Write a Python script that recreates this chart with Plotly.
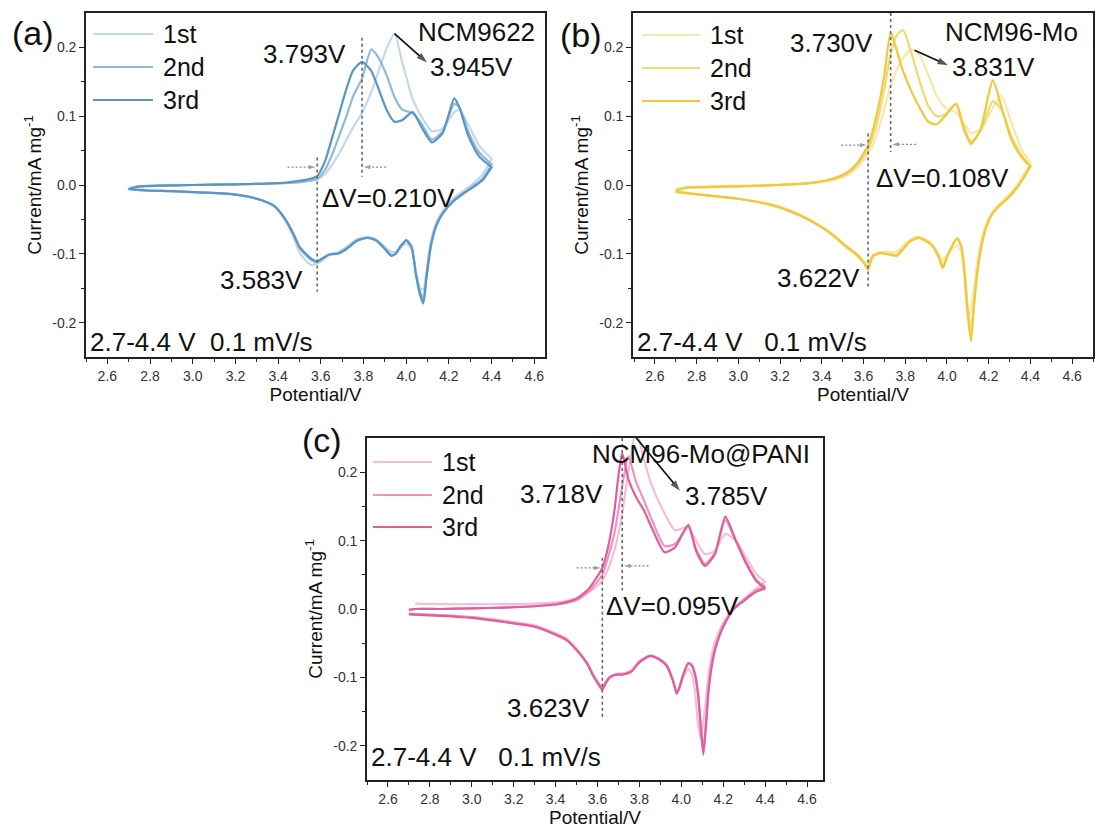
import plotly.graph_objects as go

W, H = 1096, 830
FONT = "Liberation Sans, Arial, Helvetica, sans-serif"
INK = "#111111"

# ---------------------------------------------------------------- (a) NCM9622
A_V_UP = [2.70, 2.75, 2.85, 3.00, 3.20, 3.35, 3.45, 3.52, 3.583, 3.62, 3.654, 3.69, 3.72, 3.75,
          3.793, 3.836, 3.87, 3.91, 3.945, 3.98, 4.03, 4.07, 4.12, 4.17, 4.225, 4.25, 4.29, 4.34, 4.40]
A_I_UP_1 = [-0.004, -0.002, 0.000, 0.000, 0.001, 0.002, 0.003, 0.005, 0.008, 0.016, 0.030, 0.048, 0.066, 0.083,
            0.105, 0.135, 0.165, 0.200, 0.220, 0.180, 0.125, 0.100, 0.078, 0.082, 0.106, 0.109, 0.088, 0.058, 0.038]
A_I_UP_2 = [-0.006, -0.002, -0.001, 0.000, 0.001, 0.002, 0.003, 0.005, 0.009, 0.022, 0.045, 0.075, 0.100, 0.128,
            0.155, 0.197, 0.185, 0.158, 0.128, 0.110, 0.104, 0.090, 0.066, 0.078, 0.118, 0.112, 0.078, 0.048, 0.030]
A_I_UP_3 = [-0.006, -0.002, -0.001, 0.000, 0.001, 0.002, 0.004, 0.007, 0.013, 0.035, 0.070, 0.108, 0.140, 0.166,
            0.179, 0.166, 0.140, 0.108, 0.092, 0.094, 0.106, 0.085, 0.062, 0.075, 0.126, 0.112, 0.072, 0.042, 0.026]
A_V_DN = [4.40, 4.36, 4.32, 4.27, 4.22, 4.17, 4.14, 4.115, 4.095, 4.08, 4.065, 4.045, 4.025, 4.00, 3.975, 3.95,
          3.93, 3.90, 3.86, 3.82, 3.77, 3.72, 3.68, 3.64, 3.61, 3.583, 3.555, 3.53, 3.50, 3.47, 3.43, 3.38,
          3.30, 3.20, 3.05, 2.90, 2.78, 2.70]
A_I_DN_1 = [0.038, 0.016, 0.004, -0.008, -0.020, -0.038, -0.055, -0.082, -0.125, -0.152, -0.150, -0.125, -0.093,
            -0.085, -0.090, -0.097, -0.097, -0.090, -0.080, -0.076, -0.079, -0.090, -0.098, -0.101, -0.109, -0.114,
            -0.116, -0.110, -0.098, -0.075, -0.050, -0.031, -0.020, -0.014, -0.011, -0.009, -0.007, -0.005]
A_I_DN_2 = [0.030, 0.010, 0.000, -0.011, -0.023, -0.041, -0.058, -0.087, -0.130, -0.165, -0.155, -0.127, -0.090,
            -0.081, -0.090, -0.100, -0.102, -0.092, -0.080, -0.076, -0.080, -0.092, -0.099, -0.101, -0.107, -0.112,
            -0.109, -0.102, -0.091, -0.070, -0.048, -0.030, -0.020, -0.014, -0.011, -0.009, -0.008, -0.006]
A_I_DN_3 = [0.026, 0.008, -0.002, -0.012, -0.024, -0.042, -0.060, -0.090, -0.135, -0.172, -0.160, -0.130, -0.090,
            -0.080, -0.088, -0.100, -0.103, -0.093, -0.081, -0.077, -0.081, -0.093, -0.100, -0.101, -0.106, -0.111,
            -0.107, -0.100, -0.090, -0.070, -0.048, -0.030, -0.020, -0.014, -0.011, -0.009, -0.008, -0.006]

# ---------------------------------------------------------------- (b) NCM96-Mo
B_V_UP = [2.70, 2.75, 2.85, 3.00, 3.20, 3.35, 3.45, 3.52, 3.57, 3.622, 3.66, 3.70, 3.73, 3.76, 3.79,
          3.831, 3.87, 3.91, 3.95, 3.99, 4.044, 4.08, 4.115, 4.16, 4.22, 4.26, 4.31, 4.36, 4.40]
B_I_UP_1 = [-0.006, -0.003, -0.002, -0.001, 0.001, 0.003, 0.007, 0.014, 0.025, 0.045, 0.070, 0.110, 0.145, 0.168,
            0.185, 0.197, 0.188, 0.160, 0.130, 0.113, 0.105, 0.090, 0.076, 0.080, 0.112, 0.130, 0.090, 0.050, 0.032]
B_I_UP_2 = [-0.008, -0.004, -0.003, -0.002, 0.000, 0.003, 0.008, 0.016, 0.029, 0.052, 0.085, 0.140, 0.190, 0.218,
            0.225, 0.190, 0.150, 0.115, 0.100, 0.102, 0.118, 0.085, 0.063, 0.078, 0.122, 0.110, 0.070, 0.042, 0.028]
B_I_UP_3 = [-0.008, -0.004, -0.003, -0.002, 0.000, 0.003, 0.009, 0.018, 0.032, 0.058, 0.098, 0.160, 0.222, 0.195,
            0.165, 0.135, 0.112, 0.092, 0.088, 0.100, 0.118, 0.082, 0.060, 0.080, 0.152, 0.115, 0.065, 0.040, 0.027]
B_V_DN = [4.40, 4.35, 4.30, 4.26, 4.22, 4.19, 4.165, 4.145, 4.13, 4.115, 4.10, 4.085, 4.07, 4.05, 4.03, 4.00,
          3.98, 3.96, 3.93, 3.89, 3.86, 3.82, 3.76, 3.72, 3.68, 3.645, 3.622, 3.60, 3.57, 3.55, 3.50, 3.45,
          3.38, 3.30, 3.18, 3.00, 2.85, 2.70]
B_I_DN_1 = [0.032, 0.006, -0.013, -0.025, -0.038, -0.055, -0.080, -0.112, -0.150, -0.180, -0.190, -0.140, -0.100,
            -0.088, -0.092, -0.102, -0.110, -0.100, -0.086, -0.078, -0.075, -0.080, -0.097, -0.097, -0.097, -0.102,
            -0.113, -0.112, -0.104, -0.099, -0.087, -0.073, -0.058, -0.045, -0.031, -0.020, -0.015, -0.010]
B_I_DN_2 = [0.028, 0.003, -0.016, -0.027, -0.040, -0.058, -0.087, -0.125, -0.168, -0.212, -0.180, -0.125, -0.090,
            -0.078, -0.086, -0.104, -0.118, -0.103, -0.088, -0.079, -0.076, -0.082, -0.101, -0.100, -0.099, -0.104,
            -0.119, -0.111, -0.101, -0.096, -0.084, -0.071, -0.057, -0.044, -0.030, -0.020, -0.015, -0.010]
B_I_DN_3 = [0.027, 0.002, -0.017, -0.028, -0.041, -0.060, -0.090, -0.130, -0.175, -0.227, -0.190, -0.130, -0.092,
            -0.077, -0.085, -0.105, -0.121, -0.105, -0.089, -0.080, -0.077, -0.083, -0.103, -0.101, -0.099, -0.103,
            -0.123, -0.112, -0.102, -0.097, -0.085, -0.072, -0.058, -0.045, -0.031, -0.020, -0.015, -0.010]

# ---------------------------------------------------------------- (c) NCM96-Mo@PANI
C_V_UP = [2.70, 2.73, 2.85, 3.00, 3.15, 3.30, 3.42, 3.50, 3.56, 3.60, 3.623, 3.65, 3.68, 3.70, 3.718,
          3.747, 3.785, 3.82, 3.86, 3.92, 3.97, 4.033, 4.07, 4.113, 4.16, 4.21, 4.26, 4.31, 4.36, 4.40]
C_I_UP_1 = [None, 0.008, 0.007, 0.007, 0.007, 0.008, 0.010, 0.016, 0.025, 0.034, 0.042, 0.058, 0.085, 0.110, 0.140,
            0.200, 0.262, 0.220, 0.180, 0.140, 0.115, 0.120, 0.100, 0.080, 0.085, 0.110, 0.100, 0.075, 0.050, 0.040]
C_I_UP_2 = [-0.002, 0.000, 0.000, 0.001, 0.002, 0.004, 0.007, 0.013, 0.026, 0.040, 0.050, 0.075, 0.110, 0.145, 0.180,
            0.223, 0.185, 0.160, 0.130, 0.092, 0.095, 0.120, 0.088, 0.066, 0.082, 0.130, 0.100, 0.068, 0.042, 0.033]
C_I_UP_3 = [-0.001, 0.000, 0.000, 0.001, 0.002, 0.004, 0.008, 0.015, 0.030, 0.048, 0.060, 0.090, 0.142, 0.195, 0.228,
            0.190, 0.163, 0.145, 0.118, 0.083, 0.090, 0.123, 0.085, 0.063, 0.080, 0.135, 0.100, 0.066, 0.040, 0.030]
C_V_DN = [4.40, 4.35, 4.30, 4.25, 4.20, 4.17, 4.15, 4.13, 4.118, 4.105, 4.092, 4.08, 4.065, 4.05, 4.033, 4.01,
          3.99, 3.978, 3.96, 3.93, 3.89, 3.85, 3.80, 3.76, 3.72, 3.69, 3.66, 3.64, 3.623, 3.60, 3.58, 3.55,
          3.50, 3.45, 3.38, 3.30, 3.15, 3.00, 2.85, 2.70]
C_I_DN_1 = [0.040, 0.028, 0.015, 0.002, -0.020, -0.040, -0.060, -0.095, -0.130, -0.165, -0.188, -0.170, -0.120,
            -0.095, -0.088, -0.100, -0.117, -0.120, -0.104, -0.082, -0.072, -0.068, -0.076, -0.090, -0.094, -0.095,
            -0.099, -0.106, -0.113, -0.106, -0.096, -0.078, -0.058, -0.043, -0.033, -0.024, -0.017, -0.012,
            -0.009, -0.007]
C_I_DN_2 = [0.033, 0.026, 0.014, 0.001, -0.024, -0.048, -0.072, -0.115, -0.162, -0.205, -0.168, -0.125, -0.096,
            -0.083, -0.080, -0.096, -0.116, -0.122, -0.104, -0.082, -0.072, -0.068, -0.077, -0.091, -0.095, -0.095,
            -0.099, -0.107, -0.116, -0.107, -0.097, -0.079, -0.059, -0.044, -0.034, -0.025, -0.018, -0.012,
            -0.009, -0.007]
C_I_DN_3 = [0.030, 0.024, 0.012, 0.000, -0.026, -0.050, -0.075, -0.120, -0.170, -0.213, -0.170, -0.125, -0.095,
            -0.082, -0.079, -0.095, -0.115, -0.124, -0.105, -0.083, -0.073, -0.069, -0.078, -0.092, -0.096, -0.096,
            -0.100, -0.108, -0.118, -0.108, -0.098, -0.080, -0.060, -0.045, -0.035, -0.026, -0.019, -0.013,
            -0.010, -0.008]

CYCLES = ["1st", "2nd", "3rd"]
A_COLORS = ["#c3d9ea", "#8fbadb", "#5b95c6"]
B_COLORS = ["#f6e8a8", "#f2d873", "#efc83c"]
C_COLORS = ["#f3bed7", "#ec94be", "#df5f9e"]

# labelled peak potentials (V): main oxidation, main reduction, first-cycle oxidation
A_OX, A_RED, A_OX1 = 3.793, 3.583, 3.945
B_OX, B_RED, B_OX1 = 3.730, 3.622, 3.831
C_OX, C_RED, C_OX1 = 3.718, 3.623, 3.785

SAMPLES = ["NCM9622", "NCM96-Mo", "NCM96-Mo@PANI"]
CONDITION = ["2.7-4.4 V\u00a0\u00a00.1 mV/s", "2.7-4.4 V\u00a0\u00a0\u00a00.1 mV/s", "2.7-4.4 V\u00a0\u00a0\u00a00.1 mV/s"]
X_TITLE = "Potential/V"
Y_TITLE = "Current/mA mg<sup>-1</sup>"
Y_TICKS = [-0.2, -0.1, 0.0, 0.1, 0.2]
Y_TICKTEXT = ["-0.2", "-0.1", "0.0", "0.1", "0.2"]


def px(x):
    return x / W


def py(y):
    return 1 - y / H


panels = [
    dict(letter="(a)", v_up=A_V_UP, i_up=[A_I_UP_1, A_I_UP_2, A_I_UP_3],
         v_dn=A_V_DN, i_dn=[A_I_DN_1, A_I_DN_2, A_I_DN_3], colors=A_COLORS,
         ox=A_OX, red=A_RED, ox1=A_OX1, sample=SAMPLES[0], cond=CONDITION[0],
         box=(86, 545, 13, 357), xrange=[2.5, 4.65],
         letter_pos=(33, 33), leg_x=(93, 153, 161), leg_y=(34, 67, 100),
         ox_lab=(0.191, -14), ox1_lab=(4.100, 0.171), sample_lab=(0.982, 0.222),
         arrow=((3.945, 0.220), (4.097, 0.178)),
         dv_lab=(-0.019, 3), red_lab=(-0.138, -12), cond_y=-0.228,
         ox_line=(0.214, 0.012), red_line=(0.040, -0.155),
         harrow=((3.444, 0.026), (3.906, 0.026))),
    dict(letter="(b)", v_up=B_V_UP, i_up=[B_I_UP_1, B_I_UP_2, B_I_UP_3],
         v_dn=B_V_DN, i_dn=[B_I_DN_1, B_I_DN_2, B_I_DN_3], colors=B_COLORS,
         ox=B_OX, red=B_RED, ox1=B_OX1, sample=SAMPLES[1], cond=CONDITION[1],
         box=(633, 1093, 13, 357), xrange=[2.495, 4.7],
         letter_pos=(581, 35), leg_x=(642, 700, 708), leg_y=(35, 68, 101),
         ox_lab=(0.206, -16), ox1_lab=(4.013, 0.171), sample_lab=(0.972, 0.222),
         arrow=((3.845, 0.196), (4.005, 0.174)),
         dv_lab=(0.010, 6), red_lab=(-0.135, -6), cond_y=-0.228,
         ox_line=(0.25, 0.048), red_line=(0.075, -0.152),
         harrow=((3.493, 0.058), (3.852, 0.059))),
    dict(letter="(c)", v_up=C_V_UP, i_up=[C_I_UP_1, C_I_UP_2, C_I_UP_3],
         v_dn=C_V_DN, i_dn=[C_I_DN_1, C_I_DN_2, C_I_DN_3], colors=C_COLORS,
         ox=C_OX, red=C_RED, ox1=C_OX1, sample=SAMPLES[2], cond=CONDITION[2],
         box=(367, 823, 438, 780), xrange=[2.5, 4.676],
         letter_pos=(322, 440), leg_x=(373, 432, 440), leg_y=(462, 495, 527),
         ox_lab=(0.168, -17), ox1_lab=(4.006, 0.165), sample_lab=(0.975, 0.226),
         arrow=((3.785, 0.250), (3.993, 0.173)),
         dv_lab=(0.005, 2), red_lab=(-0.144, -10), cond_y=-0.217,
         ox_line=(0.25, 0.027), red_line=(0.075, -0.158),
         harrow=((3.500, 0.060), (3.843, 0.063))),
]

fig = go.Figure()
shapes, annotations = [], []
layout_axes = {}

for n, p in enumerate(panels, start=1):
    xa = "x" if n == 1 else f"x{n}"
    ya = "y" if n == 1 else f"y{n}"
    x0, x1, y0, y1 = p["box"]

    # CV loops: anodic sweep followed by cathodic sweep
    for k in range(3):
        fig.add_trace(go.Scatter(
            x=p["v_up"] + p["v_dn"], y=p["i_up"][k] + p["i_dn"][k],
            mode="lines", name=CYCLES[k], showlegend=False, hoverinfo="skip",
            line=dict(color=p["colors"][k], width=2.2, shape="spline", smoothing=0.6),
            xaxis=xa, yaxis=ya))

    axis_common = dict(showline=True, mirror=True, linecolor="#222", linewidth=1.6,
                       ticks="outside", ticklen=5, tickwidth=1.2, tickcolor="#222",
                       showgrid=False, zeroline=False, automargin=False, fixedrange=True,
                       tickfont=dict(size=14, family=FONT, color="#333"))
    layout_axes["xaxis" if n == 1 else f"xaxis{n}"] = dict(
        axis_common, domain=[px(x0), px(x1)], range=p["xrange"], anchor=ya,
        tick0=2.6, dtick=0.2, tickformat=".1f",
        minor=dict(ticks="outside", ticklen=3, tickwidth=1, tickcolor="#222", tick0=2.5, dtick=0.1),
        title=dict(text=X_TITLE, font=dict(size=19, family=FONT, color=INK), standoff=3))
    layout_axes["yaxis" if n == 1 else f"yaxis{n}"] = dict(
        axis_common, domain=[py(y1), py(y0)], range=[-0.25, 0.25], anchor=xa,
        tickmode="array", tickvals=Y_TICKS, ticktext=Y_TICKTEXT,
        minor=dict(ticks="outside", ticklen=3, tickwidth=1, tickcolor="#222",
                   tickmode="array", tickvals=[-0.15, -0.05, 0.05, 0.15]),
        title=dict(text=Y_TITLE, font=dict(size=19, family=FONT, color=INK), standoff=6))

    txt = dict(size=26, family=FONT, color=INK)

    # panel letter
    annotations.append(dict(text=p["letter"], x=px(p["letter_pos"][0]), y=py(p["letter_pos"][1]),
                            xref="paper", yref="paper", xanchor="center", yanchor="middle",
                            showarrow=False, font=dict(size=34, family=FONT, color=INK)))
    # legend: short colour bars with cycle labels
    lx0, lx1, ltx = p["leg_x"]
    for k in range(3):
        yy = py(p["leg_y"][k])
        shapes.append(dict(type="line", xref="paper", yref="paper", x0=px(lx0), x1=px(lx1), y0=yy, y1=yy,
                           line=dict(color=p["colors"][k], width=2.2)))
        annotations.append(dict(text=CYCLES[k], x=px(ltx), y=yy, xref="paper", yref="paper",
                                xanchor="left", yanchor="middle", showarrow=False,
                                font=dict(size=25, family=FONT, color=INK)))

    # sample name
    annotations.append(dict(text=p["sample"], x=p["sample_lab"][0], y=p["sample_lab"][1],
                            xref=f"{xa} domain", yref=ya, xanchor="right", yanchor="middle",
                            showarrow=False, font=txt))
    # main oxidation peak
    annotations.append(dict(text=f"{p['ox']:.3f}V", x=p["ox"], y=p["ox_lab"][0], xref=xa, yref=ya,
                            xanchor="right", yanchor="middle", xshift=p["ox_lab"][1],
                            showarrow=False, font=txt))
    # first-cycle oxidation peak label
    annotations.append(dict(text=f"{p['ox1']:.3f}V", x=p["ox1_lab"][0], y=p["ox1_lab"][1], xref=xa, yref=ya,
                            xanchor="left", yanchor="middle", showarrow=False, font=txt))
    # polarization gap
    annotations.append(dict(text=f"ΔV={p['ox'] - p['red']:.3f}V", x=p["red"], y=p["dv_lab"][0],
                            xref=xa, yref=ya, xanchor="left", yanchor="middle", xshift=p["dv_lab"][1],
                            showarrow=False, font=txt))
    # main reduction peak
    annotations.append(dict(text=f"{p['red']:.3f}V", x=p["red"], y=p["red_lab"][0], xref=xa, yref=ya,
                            xanchor="right", yanchor="middle", xshift=p["red_lab"][1],
                            showarrow=False, font=txt))
    # test condition
    annotations.append(dict(text=p["cond"], x=0.004, y=p["cond_y"], xref=f"{xa} domain", yref=ya,
                            xanchor="left", yanchor="middle", showarrow=False, font=txt))

    # dotted guides at the peak potentials
    for xv, (ya0, ya1) in ((p["ox"], p["ox_line"]), (p["red"], p["red_line"])):
        shapes.append(dict(type="line", xref=xa, yref=ya, x0=xv, x1=xv, y0=ya0, y1=ya1,
                           line=dict(color="#666", width=1.6, dash="3px,3px")))

    # black pointer from the first-cycle peak to its label
    (tx, ty), (hx, hy) = p["arrow"]
    fig.add_trace(go.Scatter(
        x=[tx, hx], y=[ty, hy], mode="lines+markers", showlegend=False, hoverinfo="skip",
        line=dict(color="#111", width=1.7),
        marker=dict(symbol="arrow", angleref="previous", size=[0, 11], color="#111",
                    line=dict(width=0)),
        cliponaxis=False, xaxis=xa, yaxis=ya))

    # short dashed arrows pointing at the guides
    (lt, ly), (rt, ry) = p["harrow"]
    for tail, head, yv in ((lt, p["red"] - 0.008, ly), (rt, p["ox"] + 0.008, ry)):
        fig.add_trace(go.Scatter(
            x=[tail, head], y=[yv, yv], mode="lines+markers", showlegend=False, hoverinfo="skip",
            line=dict(color="#888", width=1.2, dash="2px,2px"),
            marker=dict(symbol="arrow", angleref="previous", size=[0, 7], color="#777",
                        line=dict(width=0)),
            cliponaxis=False, xaxis=xa, yaxis=ya))

fig.update_layout(
    width=W, height=H, margin=dict(l=0, r=0, t=0, b=0),
    paper_bgcolor="white", plot_bgcolor="white",
    font=dict(family=FONT, color=INK),
    showlegend=False, shapes=shapes, annotations=annotations, **layout_axes)

fig.write_html("out.html")
